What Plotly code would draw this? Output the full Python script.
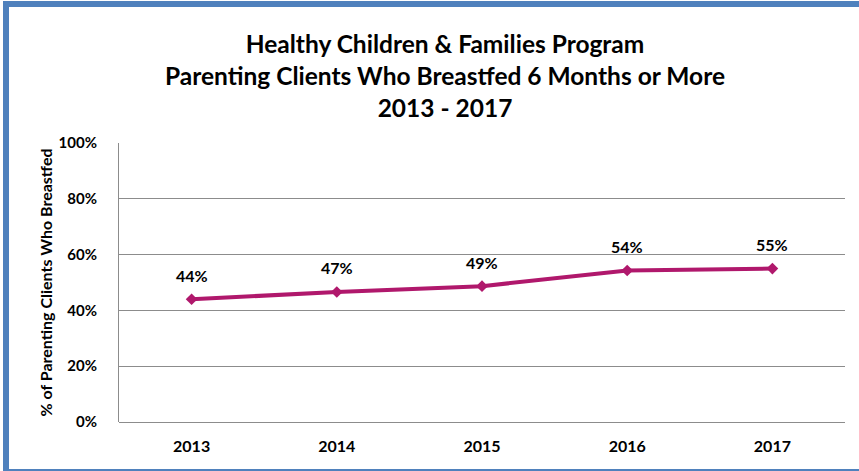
import plotly.graph_objects as go

years = ["2013", "2014", "2015", "2016", "2017"]
rates = [0.44, 0.466, 0.487, 0.543, 0.55]
labels = ["44%", "47%", "49%", "54%", "55%"]
y_ticks = [0, 0.2, 0.4, 0.6, 0.8, 1.0]
y_tick_labels = ["0%", "20%", "40%", "60%", "80%", "100%"]

FONT = "Lato"
LINE = "#B0186C"
BLUE = "#4F81BD"

fig = go.Figure()
fig.add_trace(go.Scatter(
    x=years, y=rates, mode="lines+markers",
    line=dict(color=LINE, width=4),
    marker=dict(symbol="diamond", size=9, color=LINE),
    hoverinfo="skip", showlegend=False,
))
for i, (v, t) in enumerate(zip(rates, labels)):
    fig.add_annotation(x=i, y=v, text=t, showarrow=False, yshift=24,
                       font=dict(family=FONT, size=16, color="#000000", weight="bold"))

W, H = 859, 471
L, R, T, B = 119, 14, 143, 49
pw, ph = W - L - R, H - T - B

def px(x):
    return (x - L) / pw

def py(y):
    return (H - B - y) / ph

# outer blue frame (left, top, bottom)
fig.add_shape(type="rect", xref="paper", yref="paper", x0=px(3), x1=px(9), y0=py(471), y1=py(1),
              fillcolor=BLUE, line_width=0, layer="above")
fig.add_shape(type="rect", xref="paper", yref="paper", x0=px(3), x1=px(859), y0=py(7), y1=py(1),
              fillcolor=BLUE, line_width=0, layer="above")
fig.add_shape(type="rect", xref="paper", yref="paper", x0=px(3), x1=px(859), y0=py(471), y1=py(469),
              fillcolor=BLUE, line_width=0, layer="above")

fig.update_layout(
    width=W, height=H,
    margin=dict(l=L, r=R, t=T, b=B, autoexpand=False),
    paper_bgcolor="white", plot_bgcolor="white",
    title=dict(
        text="Healthy Children & Families Program<br>Parenting Clients Who Breastfed 6 Months or More<br>2013 - 2017",
        x=px(445), xanchor="center", xref="paper",
        y=1 - 53 / H, yanchor="top",
        font=dict(family=FONT, size=24.5, color="#000000", weight="bold"),
    ),
    xaxis=dict(
        type="category", range=[-0.5, 4.5], showgrid=False, showline=False, ticks="",
        tickfont=dict(family=FONT, size=16, color="#000000", weight="bold"),
        ticklabelstandoff=13,
        fixedrange=True,
    ),
    yaxis=dict(
        range=[0, 1], tickvals=y_ticks, ticktext=y_tick_labels,
        showgrid=True, gridcolor="#8C8C8C", gridwidth=1,
        showline=True, linecolor="#8C8C8C", linewidth=1,
        zeroline=True, zerolinecolor="#8C8C8C", zerolinewidth=1,
        tickfont=dict(family=FONT, size=15, color="#000000", weight="bold"),
        ticklabelstandoff=18,
        title=dict(text="% of Parenting Clients Who Breastfed", standoff=1,
                   font=dict(family=FONT, size=16, color="#000000", weight="bold")),
        fixedrange=True,
    ),
)

fig.write_html("out.html", config={"displayModeBar": False},
               post_script="document.body.style.margin='0';document.body.style.overflow='hidden';")
